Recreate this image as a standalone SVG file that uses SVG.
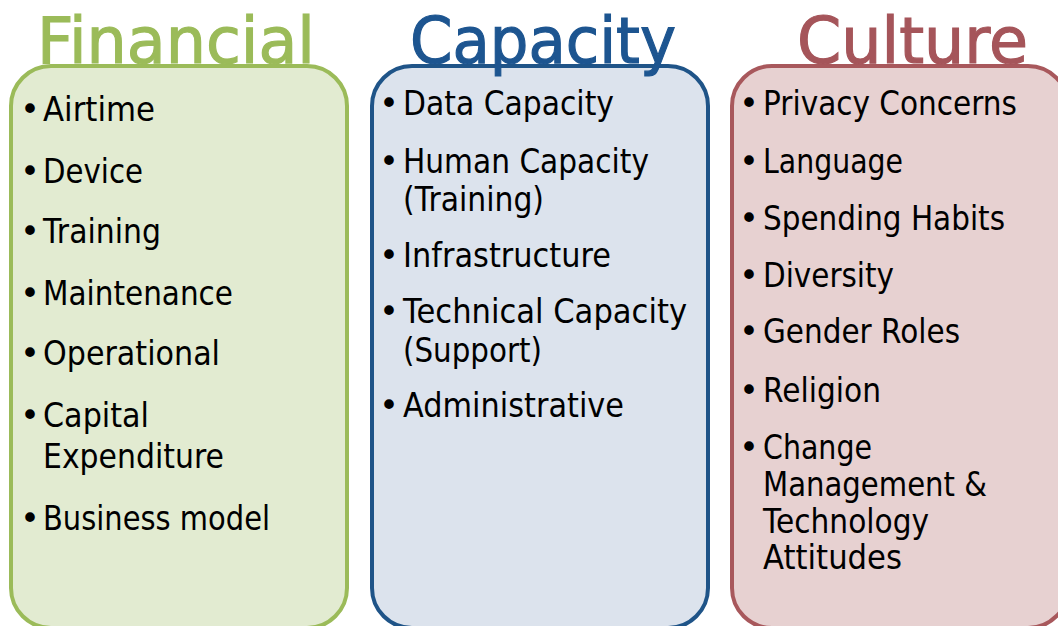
<svg xmlns="http://www.w3.org/2000/svg" width="1058" height="626" viewBox="0 0 1058 626">
<style>
text{font-family:"DejaVu Sans","Liberation Sans",sans-serif}
.item{font-size:33px;fill:#000}
.bul{font-size:33px;fill:#000;text-anchor:middle}
.title{font-size:64px;stroke-width:1.2}
.box{stroke-width:4}
.fin .box{fill:#E2EBD1;stroke:#9BBB59}
.cap .box{fill:#DCE3ED;stroke:#1F5488}
.cul .box{fill:#E7D1D1;stroke:#A8585C}
.fin .title{fill:#9BBB59;stroke:#9BBB59}
.cap .title{fill:#1D5590;stroke:#1D5590}
.cul .title{fill:#A5555A;stroke:#A5555A}
</style>
<rect width="1058" height="626" fill="#FFFFFF"/>
<g id="financial" class="fin">
<rect class="box" x="11" y="66" width="336" height="562" rx="40" ry="40"/>
<text class="title" x="37" y="63" textLength="278" lengthAdjust="spacingAndGlyphs">Financial</text>
<text class="bul" x="30" y="121">•</text><text class="item" x="43" y="121" textLength="112" lengthAdjust="spacingAndGlyphs">Airtime</text>
<text class="bul" x="30" y="183">•</text><text class="item" x="43" y="183" textLength="100" lengthAdjust="spacingAndGlyphs">Device</text>
<text class="bul" x="30" y="243">•</text><text class="item" x="43" y="243" textLength="118" lengthAdjust="spacingAndGlyphs">Training</text>
<text class="bul" x="30" y="305">•</text><text class="item" x="43" y="305" textLength="190" lengthAdjust="spacingAndGlyphs">Maintenance</text>
<text class="bul" x="30" y="365">•</text><text class="item" x="43" y="365" textLength="177" lengthAdjust="spacingAndGlyphs">Operational</text>
<text class="bul" x="30" y="427">•</text><text class="item" x="43" y="427" textLength="106" lengthAdjust="spacingAndGlyphs">Capital</text>
<text class="item" x="43" y="468" textLength="181" lengthAdjust="spacingAndGlyphs">Expenditure</text>
<text class="bul" x="30" y="530">•</text><text class="item" x="43" y="530" textLength="227" lengthAdjust="spacingAndGlyphs">Business model</text>
</g>
<g id="capacity" class="cap">
<rect class="box" x="372" y="66" width="336" height="562" rx="40" ry="40"/>
<text class="title" x="410" y="63" textLength="266" lengthAdjust="spacingAndGlyphs">Capacity</text>
<text class="bul" x="389" y="115">•</text><text class="item" x="403" y="115" textLength="211" lengthAdjust="spacingAndGlyphs">Data Capacity</text>
<text class="bul" x="389" y="173">•</text><text class="item" x="403" y="173" textLength="246" lengthAdjust="spacingAndGlyphs">Human Capacity</text>
<text class="item" x="403" y="211" textLength="141" lengthAdjust="spacingAndGlyphs">(Training)</text>
<text class="bul" x="389" y="267">•</text><text class="item" x="403" y="267" textLength="208" lengthAdjust="spacingAndGlyphs">Infrastructure</text>
<text class="bul" x="389" y="323">•</text><text class="item" x="403" y="323" textLength="284" lengthAdjust="spacingAndGlyphs">Technical Capacity</text>
<text class="item" x="403" y="362" textLength="139" lengthAdjust="spacingAndGlyphs">(Support)</text>
<text class="bul" x="389" y="417">•</text><text class="item" x="403" y="417" textLength="221" lengthAdjust="spacingAndGlyphs">Administrative</text>
</g>
<g id="culture" class="cul">
<rect class="box" x="732" y="66" width="336" height="562" rx="40" ry="40"/>
<text class="title" x="797" y="63" textLength="231" lengthAdjust="spacingAndGlyphs">Culture</text>
<text class="bul" x="749" y="115">•</text><text class="item" x="763" y="115" textLength="254" lengthAdjust="spacingAndGlyphs">Privacy Concerns</text>
<text class="bul" x="749" y="173">•</text><text class="item" x="763" y="173" textLength="140" lengthAdjust="spacingAndGlyphs">Language</text>
<text class="bul" x="749" y="230">•</text><text class="item" x="763" y="230" textLength="242" lengthAdjust="spacingAndGlyphs">Spending Habits</text>
<text class="bul" x="749" y="287">•</text><text class="item" x="763" y="287" textLength="131" lengthAdjust="spacingAndGlyphs">Diversity</text>
<text class="bul" x="749" y="343">•</text><text class="item" x="763" y="343" textLength="197" lengthAdjust="spacingAndGlyphs">Gender Roles</text>
<text class="bul" x="749" y="402">•</text><text class="item" x="763" y="402" textLength="118" lengthAdjust="spacingAndGlyphs">Religion</text>
<text class="bul" x="749" y="459">•</text><text class="item" x="763" y="459" textLength="109" lengthAdjust="spacingAndGlyphs">Change</text>
<text class="item" x="763" y="496" textLength="224" lengthAdjust="spacingAndGlyphs">Management &amp;</text>
<text class="item" x="763" y="533" textLength="166" lengthAdjust="spacingAndGlyphs">Technology</text>
<text class="item" x="763" y="569" textLength="139" lengthAdjust="spacingAndGlyphs">Attitudes</text>
</g>
</svg>
